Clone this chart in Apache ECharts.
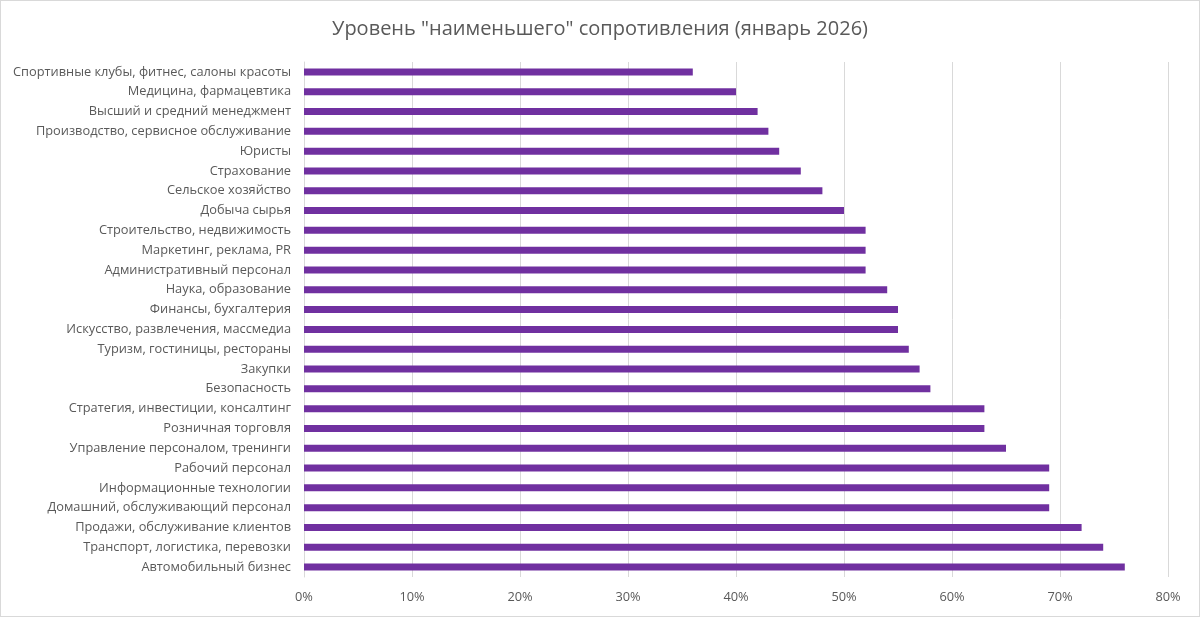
<!DOCTYPE html>
<html>
<head>
<meta charset="utf-8">
<script src="https://cdn.jsdelivr.net/npm/echarts@6/dist/echarts.min.js"></script>
<style>
  html, body { margin: 0; padding: 0; background: #fff; }
  #chart { width: 1200px; height: 617px; box-sizing: border-box; border: 1px solid #d9d9d9; }
</style>
</head>
<body>
<div id="chart"></div>
<script>
const categories = [
  'Спортивные клубы, фитнес, салоны красоты',
  'Медицина, фармацевтика',
  'Высший и средний менеджмент',
  'Производство, сервисное обслуживание',
  'Юристы',
  'Страхование',
  'Сельское хозяйство',
  'Добыча сырья',
  'Строительство, недвижимость',
  'Маркетинг, реклама, PR',
  'Административный персонал',
  'Наука, образование',
  'Финансы, бухгалтерия',
  'Искусство, развлечения, массмедиа',
  'Туризм, гостиницы, рестораны',
  'Закупки',
  'Безопасность',
  'Стратегия, инвестиции, консалтинг',
  'Розничная торговля',
  'Управление персоналом, тренинги',
  'Рабочий персонал',
  'Информационные технологии',
  'Домашний, обслуживающий персонал',
  'Продажи, обслуживание клиентов',
  'Транспорт, логистика, перевозки',
  'Автомобильный бизнес'
];
const values = [
  0.36, 0.40, 0.42, 0.43, 0.44, 0.46, 0.48, 0.50, 0.52, 0.52, 0.52, 0.54, 0.55,
  0.55, 0.56, 0.57, 0.58, 0.63, 0.63, 0.65, 0.69, 0.69, 0.69, 0.72, 0.74, 0.76
];
const xTicks = { min: 0, max: 0.8, interval: 0.1 };

const chart = echarts.init(document.getElementById('chart'));
const textColor = '#595959';
const font = 'Open Sans, Noto Sans, sans-serif';

chart.setOption({
  animation: false,
  title: {
    text: 'Уровень "наименьшего" сопротивления (январь 2026)',
    left: 'center',
    top: 13,
    textStyle: { color: textColor, fontSize: 20, fontWeight: 'normal', fontFamily: font }
  },
  grid: { left: 303, right: 31, top: 61, bottom: 39 },
  xAxis: {
    type: 'value',
    min: xTicks.min,
    max: xTicks.max,
    interval: xTicks.interval,
    axisLine: { show: false },
    axisTick: { show: false },
    splitLine: { lineStyle: { color: '#d9d9d9', width: 1 } },
    axisLabel: {
      color: textColor,
      fontSize: 12.8,
      fontFamily: font,
      margin: 14,
      formatter: v => Math.round(v * 100) + '%'
    }
  },
  yAxis: {
    type: 'category',
    inverse: true,
    data: categories,
    axisLine: { show: true, lineStyle: { color: '#d9d9d9' } },
    axisTick: { show: false },
    axisLabel: { color: textColor, fontSize: 12.8, fontFamily: font, margin: 13 }
  },
  series: [{
    type: 'bar',
    data: values,
    barWidth: 7,
    itemStyle: { color: '#7030a0' }
  }]
});
</script>
</body>
</html>
